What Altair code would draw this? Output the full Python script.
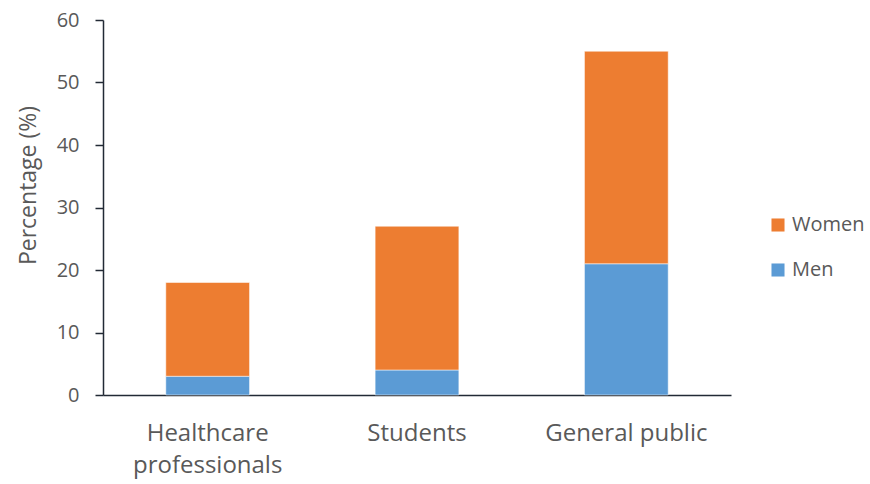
import altair as alt
import pandas as pd

# Share of respondents by group, split by gender
groups = ["Healthcare professionals", "Students", "General public"]
men = [3, 4, 21]
women = [15, 23, 34]

rows = []
for g, m, w in zip(groups, men, women):
    rows.append({"group": g, "gender": "Men", "value": m, "stack": 0})
    rows.append({"group": g, "gender": "Women", "value": w, "stack": 1})
df = pd.DataFrame(rows)

font = "Open Sans"
grey = "#595959"
axis_dark = "#222a35"

chart = alt.Chart(df).mark_bar(stroke="white", strokeWidth=0.5).encode(
    x=alt.X(
        "group:N",
        sort=groups,
        title=None,
        scale=alt.Scale(paddingInner=0.6, paddingOuter=0.3),
        axis=alt.Axis(
            labelAngle=0,
            labelFont=font,
            labelFontSize=24,
            labelColor=grey,
            labelPadding=26,
            labelLineHeight=32,
            labelExpr="datum.label == 'Healthcare professionals' ? ['Healthcare', 'professionals'] : datum.label",
            ticks=False,
            domainColor=axis_dark,
            domainWidth=1.5,
        ),
    ),
    y=alt.Y(
        "value:Q",
        stack="zero",
        title="Percentage (%)",
        scale=alt.Scale(domain=[0, 60], nice=False),
        axis=alt.Axis(
            values=[0, 10, 20, 30, 40, 50, 60],
            grid=False,
            labelFont=font,
            labelFontSize=20,
            labelColor=grey,
            labelPadding=16,
            tickSize=8,
            tickColor=axis_dark,
            tickWidth=1.5,
            domainColor=axis_dark,
            domainWidth=1.5,
            titleFont=font,
            titleFontSize=23,
            titleFontWeight="normal",
            titleColor=grey,
            titleAngle=-90,
            titleAlign="center",
            titleBaseline="middle",
            titleX=-75,
            titleY=165,
        ),
    ),
    color=alt.Color(
        "gender:N",
        scale=alt.Scale(domain=["Women", "Men"], range=["#ED7D31", "#5B9BD5"]),
        legend=alt.Legend(
            title=None,
            orient="none",
            legendX=665,
            legendY=195,
            padding=0,
            symbolType="square",
            symbolSize=170,
            symbolStrokeWidth=0,
            labelFont=font,
            labelFontSize=20,
            labelColor=grey,
            rowPadding=25,
            labelOffset=4,
        ),
    ),
    order=alt.Order("stack:Q"),
).properties(
    width=628,
    height=375,
    padding={"left": 103, "top": 20, "right": 139, "bottom": 89},
    autosize=alt.AutoSizeParams(type="none"),
).configure_view(stroke=None)

chart.save("out.html", embed_options={"renderer": "svg", "actions": False})
